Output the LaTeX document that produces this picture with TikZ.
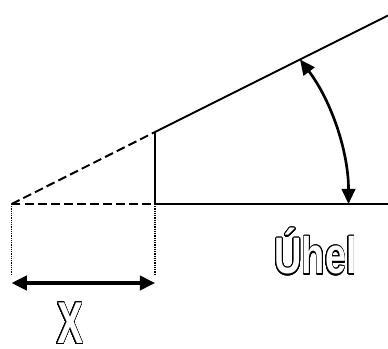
\documentclass[tikz,border=0pt]{standalone}
\usepackage{fontspec}
\usepackage{contour}
\usetikzlibrary{arrows.meta}
\newfontfamily\outlinefont{Liberation Sans}
\contourlength{0.75pt}
\contournumber{32}
\newcommand{\hollow}[1]{{\color{white}\contour{black}{#1}}}

\begin{document}
\begin{tikzpicture}[
  line cap=butt,
  line join=round,
  mainline/.style={black,line width=1.4pt},
  hiddenline/.style={black,line width=1.4pt,dash pattern=on 6.3pt off 3pt},
  guideline/.style={black,line width=0.8pt,dash pattern=on 0.8pt off 0.8pt},
  measure/.style={black,line width=2.2pt,
    {Triangle[length=3.8mm,width=3.6mm]}-{Triangle[length=3.8mm,width=3.6mm]}},
  anglearrow/.style={black,line width=1.9pt,
    {Triangle[length=3.8mm,width=3.4mm]}-{Triangle[length=3.8mm,width=3.4mm]}},
  hollowtext/.style={font=\outlinefont\bfseries,inner sep=0pt}
]
\useasboundingbox (0,0) rectangle (9.7,8.725);

\coordinate (A) at (0.29,3.625);
\coordinate (B) at (3.875,3.625);
\coordinate (C) at (3.875,5.425);
\coordinate (D) at (9.7,8.3375);
\coordinate (E) at (9.7,3.625);
\coordinate (P) at (7.5,7.2375);

% dashed extension to the apex
\draw[hiddenline] (A) -- (C);
\draw[hiddenline] (A) -- (B);

% solid part
\draw[mainline] (C) -- (D);
\draw[mainline] (B) -- (E);
\draw[mainline] (B) -- (C);

% width of the cut-off part
\coordinate (Ad) at (0.29,1.85);
\coordinate (Bd) at (3.875,1.85);
\draw[guideline] (A) -- (Ad);
\draw[guideline] (B) -- (Bd);
\coordinate (XL) at (0.29,1.65);
\coordinate (XR) at (3.875,1.65);
\draw[measure] (XL) -- (XR);

% angle
\draw[anglearrow] (P) arc[start angle=37.11,end angle=0,radius=5.988];

\node[hollowtext,font=\outlinefont\bfseries\fontsize{36.5}{42}\selectfont,
  xscale=0.74,transform shape,anchor=base] (uhel) at (7.89,1.875) {\hollow{Úhel}};
\node[hollowtext,font=\outlinefont\bfseries\fontsize{42}{48}\selectfont,
  xscale=0.66,transform shape,anchor=base] (xlabel) at (1.75,0.13) {\hollow{X}};
\end{tikzpicture}
\end{document}
